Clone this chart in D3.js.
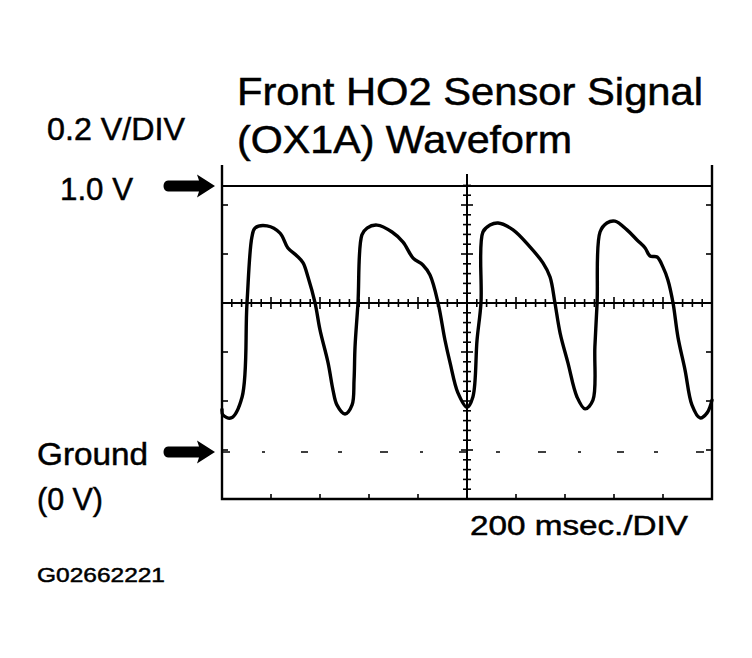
<!DOCTYPE html>
<html>
<head>
	<meta charset="utf-8">
	<title>Front HO2 Sensor Signal (OX1A) Waveform</title>
	<script type="text/javascript" src="https://cdn.jsdelivr.net/npm/d3@7"></script>
	<style>
		body {
			margin: 0;
			background: #fff;
			font-family: "Liberation Sans", Arial, Helvetica, sans-serif;
		}
	</style>
</head>

<body>

	<div id="chart"></div>

	<script>

	// data: time in ms, signal in volts

	const timeMs = [
		0, 4, 37, 82, 102, 122, 135, 184, 237, 269, 306, 331, 351, 380, 400, 433, 453, 469, 502,
		531, 539, 543, 555, 571, 592, 633, 694, 739, 780, 820, 849, 882, 910, 931, 963, 1000,
		1024, 1041, 1057, 1065, 1094, 1127, 1188, 1257, 1310, 1339, 1359, 1380, 1412, 1449, 1482,
		1514, 1522, 1531, 1543, 1571, 1604, 1653, 1694, 1727, 1747, 1776, 1800, 1820, 1841, 1861,
		1890, 1918, 1951, 1980, 2000
	];
	const volts = [
		0.16, 0.139, 0.128, 0.207, 0.560, 0.808, 0.842, 0.850, 0.823, 0.767, 0.737, 0.711, 0.658, 0.560, 0.459, 0.335, 0.233, 0.177, 0.143,
		0.177, 0.271, 0.395, 0.560, 0.816, 0.842, 0.853, 0.827, 0.789, 0.729, 0.703, 0.665, 0.560, 0.421, 0.335, 0.222, 0.168,
		0.207, 0.421, 0.560, 0.827, 0.853, 0.861, 0.835, 0.771, 0.711, 0.658, 0.560, 0.447, 0.335, 0.207, 0.162,
		0.195, 0.395, 0.560, 0.827, 0.861, 0.868, 0.835, 0.797, 0.767, 0.737, 0.733, 0.695, 0.647, 0.560, 0.432,
		0.308, 0.177, 0.128, 0.147, 0.195
	];

	const markerVolts  = [1.0, 0.0];
	const markerLabels = ["1.0 V", "Ground"];

	const titleLines = ["Front HO2 Sensor Signal", "(OX1A) Waveform"];
	const voltDivText = "0.2 V/DIV";
	const timeDivText = "200 msec./DIV";
	const groundSub   = "(0 V)";
	const figureCode  = "G02662221";

	// layout

	const width  = 752;
	const height = 658;
	const frameLeft   = 222;
	const frameRight  = 712;
	const frameBottom = 499;
	const frameTop    = 165;
	const divPx       = 49;
	const ink         = "#000";
	const font        = '"Liberation Sans", Arial, Helvetica, sans-serif';

	const x = d3.scaleLinear([0, 2000], [frameLeft, frameRight]);
	const y = d3.scaleLinear([0, 1], [452, 186]);               // volts
	const gy = d3.scaleLinear([0, 8], [frameBottom, frameBottom - 8 * divPx]); // graticule divisions

	const svg = d3.select("#chart")
		.append("svg")
		.attr("width", width)
		.attr("height", height)
		.attr("viewBox", [0, 0, width, height]);

	const g = svg.append("g")
		.attr("stroke", ink)
		.attr("fill", "none");

	// frame (no top edge)
	g.append("path")
		.attr("stroke-width", 2.4)
		.attr("d", `M${frameLeft},${frameTop}V${frameBottom}H${frameRight}V${frameTop}`);

	// ticks on the frame edges
	const majorDivsY = d3.range(1, 7);
	g.selectAll(".tl").data(majorDivsY).join("line")
		.attr("x1", frameLeft).attr("x2", frameLeft + 6)
		.attr("y1", d => gy(d)).attr("y2", d => gy(d))
		.attr("stroke-width", 1.6);
	g.selectAll(".tr").data(majorDivsY).join("line")
		.attr("x1", frameRight).attr("x2", frameRight - 6)
		.attr("y1", d => gy(d)).attr("y2", d => gy(d))
		.attr("stroke-width", 1.6);
	const majorT = d3.range(200, 2000, 200);
	g.selectAll(".tb").data(majorT).join("line")
		.attr("x1", d => x(d)).attr("x2", d => x(d))
		.attr("y1", frameBottom).attr("y2", frameBottom - 5)
		.attr("stroke-width", 1.6);

	// 1.0 V reference line
	g.append("line")
		.attr("x1", frameLeft).attr("x2", frameRight)
		.attr("y1", y(1)).attr("y2", y(1))
		.attr("stroke-width", 2);

	// ground line, broken
	g.append("line")
		.attr("x1", frameLeft).attr("x2", frameRight)
		.attr("y1", y(0)).attr("y2", y(0))
		.attr("stroke-width", 1.4)
		.attr("stroke-dasharray", "8,32,3,36,7,30,4,38");

	// centre graticule lines with minor ticks
	const cy = gy(4);
	const cx = x(1000);
	g.append("line")
		.attr("x1", frameLeft).attr("x2", frameRight)
		.attr("y1", cy).attr("y2", cy)
		.attr("stroke-width", 2);
	g.append("line")
		.attr("x1", cx).attr("x2", cx)
		.attr("y1", 174).attr("y2", frameBottom)
		.attr("stroke-width", 2);

	const minorT = d3.range(40, 2000, 40);
	g.selectAll(".mh").data(minorT).join("line")
		.attr("x1", d => x(d)).attr("x2", d => x(d))
		.attr("y1", d => cy - (d % 200 === 0 ? 6 : 4))
		.attr("y2", d => cy + (d % 200 === 0 ? 6 : 4))
		.attr("stroke-width", 1.6);
	const minorDivs = d3.range(0.2, 7, 0.2).filter(d => gy(d) > 176 && gy(d) < frameBottom - 2);
	g.selectAll(".mv").data(minorDivs).join("line")
		.attr("x1", d => cx - (Math.abs(d - Math.round(d)) < 0.01 ? 6 : 4))
		.attr("x2", d => cx + (Math.abs(d - Math.round(d)) < 0.01 ? 6 : 4))
		.attr("y1", d => gy(d)).attr("y2", d => gy(d))
		.attr("stroke-width", 1.6);

	// waveform
	const line = d3.line()
		.curve(d3.curveCatmullRom.alpha(0.5))
		.x(i => x(timeMs[i]))
		.y(i => y(volts[i]));

	g.append("path")
		.attr("stroke-width", 3.4)
		.attr("stroke-linejoin", "round")
		.attr("stroke-linecap", "round")
		.attr("d", line(d3.range(timeMs.length)));

	// arrows pointing at the 1.0 V and ground levels
	const arrow = "M0,0L-18,-11.5L-16,-5.5L-47,-5.5C-53,-5.5,-53,5.5,-47,5.5L-16,5.5L-18,11.5Z";
	svg.selectAll(".arrow").data(markerVolts).join("path")
		.attr("transform", d => `translate(${frameLeft - 7},${y(d)})`)
		.attr("fill", ink)
		.attr("d", arrow);

	// texts (widths fitted to the scan)
	const text = (tx, ty, str, size, len) => svg.append("text")
		.attr("x", tx).attr("y", ty)
		.attr("font-family", font)
		.attr("font-size", size)
		.attr("fill", ink)
		.attr("stroke", ink)
		.attr("stroke-width", 0.5)
		.attr("textLength", len)
		.attr("lengthAdjust", "spacingAndGlyphs")
		.text(str);

	text(237, 105, titleLines[0], 38, 466);
	text(237, 153, titleLines[1], 38, 335);
	text(47, 140, voltDivText, 32, 138);
	text(60, y(markerVolts[0]) + 14, markerLabels[0], 32, 73);
	text(37, y(markerVolts[1]) + 13, markerLabels[1], 32, 111);
	text(37, 510, groundSub, 32, 66);
	text(470, 535, timeDivText, 28, 218);
	text(37, 582, figureCode, 21, 128);

	</script>

</body>

</html>
